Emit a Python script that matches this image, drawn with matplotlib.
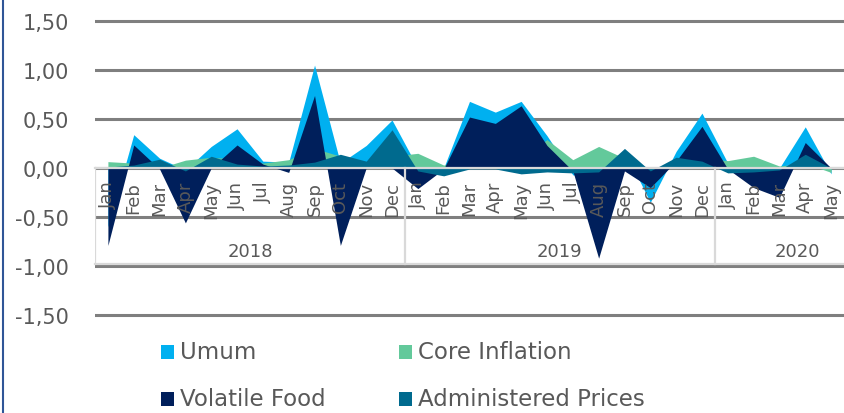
import matplotlib.pyplot as plt
from matplotlib.lines import Line2D
from matplotlib.patches import Rectangle

plt.rcParams['font.family'] = ['DejaVu Sans']

months = ["Jan", "Feb", "Mar", "Apr", "May", "Jun", "Jul", "Aug", "Sep", "Oct", "Nov", "Dec",
          "Jan", "Feb", "Mar", "Apr", "May", "Jun", "Jul", "Aug", "Sep", "Oct", "Nov", "Dec",
          "Jan", "Feb", "Mar", "Apr", "May"]
years = ["2018", "2019", "2020"]

umum = [-0.60, 0.34, 0.10, -0.02, 0.22, 0.40, 0.07, 0.06, 1.05, 0.05, 0.23, 0.49,
        0.00, 0.00, 0.68, 0.57, 0.68, 0.33, -0.07, -0.10, 0.18, -0.35, 0.17, 0.56,
        0.05, 0.00, 0.00, 0.42, -0.06]
core = [0.065, 0.05, 0.00, 0.08, 0.11, 0.09, 0.05, 0.085, 0.20, 0.12, 0.05, 0.12,
        0.15, 0.03, 0.10, 0.10, 0.10, 0.29, 0.085, 0.22, 0.10, -0.01, 0.00, 0.10,
        0.075, 0.12, 0.02, 0.05, -0.045]
volatile = [-0.79, 0.235, -0.01, -0.56, 0.00, 0.235, 0.04, -0.045, 0.74, -0.79, 0.00, 0.00,
            -0.21, -0.01, 0.52, 0.455, 0.635, 0.23, -0.03, -0.92, -0.03, -0.20, 0.07, 0.425,
            -0.01, -0.20, -0.30, 0.26, 0.00]
admin = [0.01, 0.03, 0.09, -0.03, 0.12, 0.04, 0.02, 0.03, 0.06, 0.14, 0.07, 0.39,
         -0.03, -0.08, -0.01, -0.01, -0.06, -0.04, -0.05, -0.04, 0.20, -0.03, 0.11, 0.07,
         -0.05, -0.04, -0.02, 0.14, 0.00]

series = [("Umum", umum, "#00B0F0"),
          ("Core Inflation", core, "#63C99B"),
          ("Volatile Food", volatile, "#001F5B"),
          ("Administered Prices", admin, "#006A8E")]

txt = "#595959"
W, H = 844, 414
fig = plt.figure(figsize=(W / 100, H / 100), dpi=100)

# 98 px per unit, zero line at y=169 px
ppu = 98
ymin, ymax = -1.55, 1.55
ax = fig.add_axes([95 / W, (H - (169 - ymin * ppu)) / H, (W - 95) / W, (ymax - ymin) * ppu / H])
ax.set_xlim(-0.5, 28.5)
ax.set_ylim(ymin, ymax)

x = list(range(len(months)))
for i, (name, vals, col) in enumerate(series):
    ax.fill_between(x, 0, vals, color=col, lw=0, zorder=2 + i)

yt = [-1.5, -1.0, -0.5, 0.0, 0.5, 1.0, 1.5]
ax.set_yticks(yt)
ax.set_yticklabels([f"{v:.2f}".replace(".", ",") for v in yt], color=txt, fontsize=15)
ax.set_xticks([])
ax.tick_params(axis="y", length=0, pad=19)
for v in yt:
    ax.axhline(v, color="#7F7F7F", lw=2.2, zorder=1)
for s in ax.spines.values():
    s.set_visible(False)

# multi-level category axis box
box = "#D9D9D9"
ax.plot([-0.5, 28.5], [0, 0], color=box, lw=1.6, zorder=10, clip_on=False)
ax.plot([-0.5, 28.5], [-0.98, -0.98], color=box, lw=1.6, zorder=10, clip_on=False)
for xb in [-0.5, 11.5, 23.5]:
    ax.plot([xb, xb], [0, -0.98], color=box, lw=1.6, zorder=10)

for i, m in enumerate(months):
    ax.text(i, -0.13, m, rotation=90, ha="center", va="top", color=txt, fontsize=13, zorder=11)
for xc, yr in zip([5.5, 17.5, 26.7], years):
    ax.text(xc, -0.85, yr, ha="center", va="center", color=txt, fontsize=13, zorder=11)

# legend
for i, (name, vals, col) in enumerate(series):
    lx = 161 if i % 2 == 0 else 399
    ly = 353 if i < 2 else 400
    fig.add_artist(Rectangle((lx / W, (H - ly - 7) / H), 13 / W, 14 / H,
                             transform=fig.transFigure, color=col, lw=0))
    fig.text((lx + 19) / W, (H - ly) / H, name, ha="left", va="center", color=txt, fontsize=16.5)

fig.add_artist(Line2D([3 / W, 3 / W], [0, 1], transform=fig.transFigure, color="#2F5597", lw=1.5))

fig.savefig("out.png", dpi=100)
